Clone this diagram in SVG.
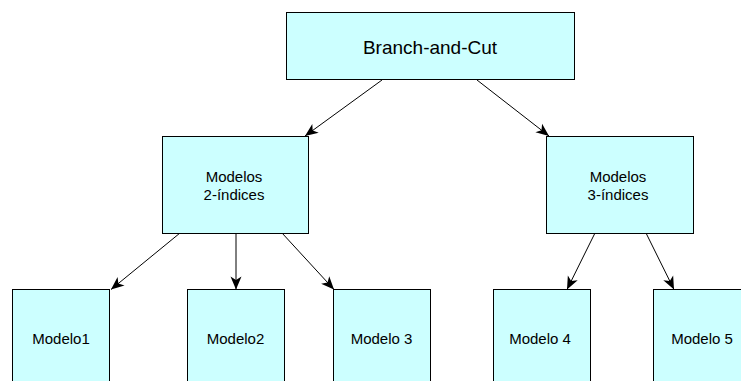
<svg xmlns="http://www.w3.org/2000/svg" width="741" height="381" viewBox="0 0 741 381">
  <defs>
    <style>
      .box { fill: #ccffff; stroke: #000000; stroke-width: 1; }
      .lbl { font-family: "Liberation Sans", Arial, sans-serif; fill: #000000; text-anchor: middle; }
      .big { font-size: 19px; }
      .mid { font-size: 15px; }
      .edge { stroke: #000000; stroke-width: 1; fill: none; marker-end: url(#head); }
    </style>
    <!-- notched filled arrowhead -->
    <marker id="head" markerUnits="userSpaceOnUse" markerWidth="14" markerHeight="12" refX="13" refY="5.5" orient="auto" overflow="visible">
      <path d="M0,0 L13,5.5 L0,11 L3.5,5.5 Z" fill="#000000"/>
    </marker>
  </defs>
  <rect width="741" height="381" fill="#ffffff"/>

  <g id="connectors">
    <line class="edge" x1="382" y1="80" x2="305" y2="136"/>
    <line class="edge" x1="477" y1="80" x2="549" y2="136"/>
    <line class="edge" x1="180" y1="233" x2="111" y2="289.5"/>
    <line class="edge" x1="236" y1="233" x2="236" y2="289.5"/>
    <line class="edge" x1="282" y1="233" x2="334" y2="289.5"/>
    <line class="edge" x1="595" y1="233" x2="567" y2="289.5"/>
    <line class="edge" x1="646" y1="233" x2="674" y2="289.5"/>
  </g>

  <g id="branch-and-cut">
    <rect class="box" x="286.5" y="12.5" width="288" height="67"/>
    <text class="lbl big" x="430" y="54">Branch-and-Cut</text>
  </g>

  <g id="modelos-2-indices">
    <rect class="box" x="162.5" y="136.5" width="146" height="97"/>
    <text class="lbl mid" x="234" y="182">Modelos</text>
    <text class="lbl mid" x="234" y="200">2-índices</text>
  </g>

  <g id="modelos-3-indices">
    <rect class="box" x="546.5" y="136.5" width="147" height="97"/>
    <text class="lbl mid" x="618" y="182">Modelos</text>
    <text class="lbl mid" x="618" y="200">3-índices</text>
  </g>

  <g id="modelo1">
    <rect class="box" x="12.5" y="289.5" width="97" height="120"/>
    <text class="lbl mid" x="61" y="344">Modelo1</text>
  </g>

  <g id="modelo2">
    <rect class="box" x="187.5" y="289.5" width="97" height="120"/>
    <text class="lbl mid" x="235.5" y="344">Modelo2</text>
  </g>

  <g id="modelo3">
    <rect class="box" x="333.5" y="289.5" width="97" height="120"/>
    <text class="lbl mid" x="381.5" y="344">Modelo 3</text>
  </g>

  <g id="modelo4">
    <rect class="box" x="493.5" y="289.5" width="97" height="120"/>
    <text class="lbl mid" x="540" y="344">Modelo 4</text>
  </g>

  <g id="modelo5">
    <rect class="box" x="653.5" y="289.5" width="97" height="120"/>
    <text class="lbl mid" x="702" y="344">Modelo 5</text>
  </g>
</svg>
